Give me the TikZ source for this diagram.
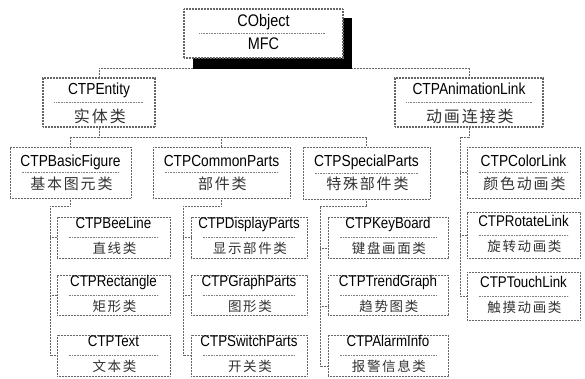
\documentclass[tikz,border=0pt]{standalone}
\usepackage{fontspec}
\setmainfont{Liberation Sans}[FakeStretch=0.86]
\newfontfamily\zhfont{Noto Sans CJK SC}[LetterSpace=12]
\usetikzlibrary{calc}
\tikzset{
  dots/.style={dash pattern=on 0.9pt off 0.6pt},
  conn/.style={draw=black!60, line width=0.6pt, dots},
  boxbase/.style={rectangle, draw=black!60, dots, fill=white, inner sep=0pt},
  boxo/.style={boxbase, line width=1.3pt},
  boxa/.style={boxbase, line width=1.3pt},
  boxb/.style={boxbase, line width=0.6pt},
  boxc/.style={boxbase, line width=0.6pt},
  divline/.style={draw=black!50, line width=0.5pt, dash pattern=on 0.8pt off 0.8pt},
  entxt/.style={inner sep=0pt, text depth=0pt, text=black},
  zhtxt/.style={inner sep=0pt, text=black!80},
  ena/.style={entxt, font=\fontsize{16}{17}\selectfont, text height=11.5pt, yshift=13.5pt},
  enb/.style={entxt, font=\fontsize{16}{17}\selectfont, text height=11.5pt, yshift=12pt},
  enc/.style={entxt, font=\fontsize{15.5}{16}\selectfont, text height=11.1pt, yshift=14.5pt},
  zha/.style={zhtxt, font=\zhfont\fontsize{16}{17}\selectfont, text height=13.3pt, text depth=1.1pt, yshift=-13.5pt},
  zhb/.style={zhtxt, font=\zhfont\fontsize{15}{16}\selectfont, text height=12.5pt, text depth=1.05pt, yshift=-11pt},
  zhc/.style={zhtxt, font=\zhfont\fontsize{13.5}{15}\selectfont, text height=11.2pt, text depth=0.95pt, yshift=-11pt},
}
% #1 name, #2 x1, #3 y1, #4 x2, #5 y2, #6 level, #7 English, #8 Chinese
\newcommand\klass[8]{%
  \node[box#6, minimum width={(#4-#2)*1pt}, minimum height={(#5-#3)*1pt}] (#1) at ({(#2+#4)/2},{(#3+#5)/2}) {};
  \node[en#6] (#1-en) at (#1.center) {#7};
  \node[zh#6] (#1-zh) at (#1.center) {\kern1.8pt #8};
  \draw[divline] ([xshift=12pt]#1.west) -- ([xshift=-12pt]#1.east);
}
\begin{document}
\begin{tikzpicture}[x=1pt, y=-1pt]
\fill[white] (0,0) rectangle (585,379);
\useasboundingbox (0,0) rectangle (585,379);

% bus coordinates
\coordinate (bus0) at (0,68);
\coordinate (bus1) at (0,137);
\coordinate (bus2) at (0,206);
\coordinate (bspine) at (50,206);
\coordinate (cspine) at (183,206);
\coordinate (sspine) at (320,206);
\coordinate (aspine) at (460,137);

% class boxes
\klass{Entity}{43}{78}{155}{127}{a}{CTPEntity}{实体类}
\klass{AnimationLink}{395}{78}{543}{127}{a}{CTPAnimationLink}{动画连接类}

\klass{BasicFigure}{10}{147}{131}{198}{b}{CTPBasicFigure}{基本图元类}
\klass{CommonParts}{153}{147}{290}{198}{b}{CTPCommonParts}{部件类}
\klass{SpecialParts}{303}{147}{430}{199}{b}{CTPSpecialParts}{特殊部件类}
\klass{ColorLink}{467}{147}{580}{198}{b}{CTPColorLink}{颜色动画类}

\klass{BeeLine}{57}{217}{170}{258}{c}{CTPBeeLine}{直线类}
\klass{Rectangle}{57}{275}{170}{315}{c}{CTPRectangle}{矩形类}
\klass{Text}{57}{335}{170}{376}{c}{CTPText}{文本类}

\klass{DisplayParts}{191}{217}{307}{258}{c}{CTPDisplayParts}{显示部件类}
\klass{GraphParts}{191}{275}{307}{315}{c}{CTPGraphParts}{图形类}
\klass{SwitchParts}{191}{335}{307}{376}{c}{CTPSwitchParts}{开关类}

\klass{KeyBoard}{328}{217}{448}{258}{c}{CTPKeyBoard}{键盘画面类}
\klass{TrendGraph}{328}{275}{448}{315}{c}{CTPTrendGraph}{趋势图类}
\klass{AlarmInfo}{328}{335}{448}{376}{c}{CTPAlarmInfo}{报警信息类}

\klass{RotateLink}{467}{212}{580}{258}{c}{CTPRotateLink}{旋转动画类}
\klass{TouchLink}{467}{272}{580}{320}{c}{CTPTouchLink}{触摸动画类}

% root box (drawn later on top of its shadow)
\node[boxo, minimum width=159pt, minimum height=49pt] (CObject) at (263.5,33.5) {};

% connectors
\draw[conn] (CObject.south) -- (CObject.south |- bus0) -| (Entity.north);
\draw[conn] (CObject.south |- bus0) -| (AnimationLink.north);

\draw[conn] (Entity.south) -- (Entity.south |- bus1) -| (BasicFigure.north);
\draw[conn] (Entity.south |- bus1) -| (CommonParts.north);
\draw[conn] (Entity.south |- bus1) -| (SpecialParts.north);

\draw[conn] (AnimationLink.south) -- (AnimationLink.south |- aspine) -- (aspine) |- (TouchLink.west);
\draw[conn] (aspine |- ColorLink.west) -- (ColorLink.west);
\draw[conn] (aspine |- RotateLink.west) -- (RotateLink.west);

\draw[conn] (BasicFigure.south) -- (BasicFigure.south |- bspine) -- (bspine) |- (Text.west);
\draw[conn] (bspine |- BeeLine.west) -- (BeeLine.west);
\draw[conn] (bspine |- Rectangle.west) -- (Rectangle.west);

\draw[conn] (CommonParts.south) -- (CommonParts.south |- cspine) -- (cspine) |- (SwitchParts.west);
\draw[conn] (cspine |- DisplayParts.west) -- (DisplayParts.west);
\draw[conn] (cspine |- GraphParts.west) -- (GraphParts.west);

\coordinate (kbt) at ([yshift=-11pt]KeyBoard.west);
\coordinate (tgt) at ([yshift=-11pt]TrendGraph.west);
\coordinate (ait) at ([yshift=-11pt]AlarmInfo.west);
\draw[conn] (SpecialParts.south) -- (SpecialParts.south |- sspine) -- (sspine) |- (ait);
\draw[conn] (sspine |- kbt) -- (kbt);
\draw[conn] (sspine |- tgt) -- (tgt);

% shadow and root box on top
\fill[black] (193,18) rectangle (352,69);
\node[boxo, minimum width=159pt, minimum height=49pt] at (CObject.center) {};
\node[entxt, font=\fontsize{16.8}{17}\selectfont, text height=12pt, yshift=12.5pt] (CObject-en) at (CObject.center) {CObject};
\node[entxt, font=\fontsize{16.8}{17}\selectfont, text height=12pt, yshift=-10.5pt] (CObject-lib) at (CObject.center) {MFC};
\draw[divline] ([xshift=16pt]CObject.west) -- ([xshift=-18pt]CObject.east);
\end{tikzpicture}
\end{document}
